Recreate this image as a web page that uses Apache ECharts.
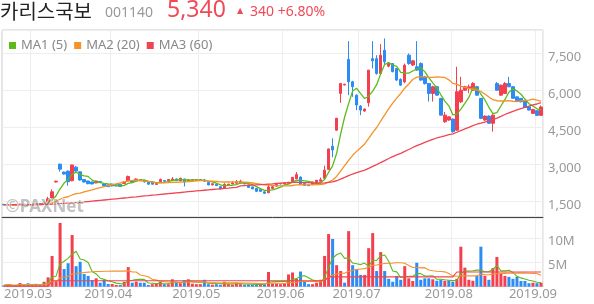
<!DOCTYPE html>
<html><head><meta charset="utf-8">
<script src="https://cdn.jsdelivr.net/npm/echarts@6/dist/echarts.min.js"></script>
<style>html,body{margin:0;padding:0;background:#fff}#c{width:594px;height:304px}</style>
</head><body><div id="c"></div>
<script>
// trading days per month (explicit)
const tradingDays = [
  ['2019-02', [20,21,22,25,26,27,28]],
  ['2019-03', [4,5,6,7,8,11,12,13,14,15,18,19,20,21,22,25,26,27,28,29]],
  ['2019-04', [1,2,3,4,5,8,9,10,11,12,15,16,17,18,19,22,23,24,25,26,29,30]],
  ['2019-05', [2,3,7,8,9,10,13,14,15,16,17,20,21,22,23,24,27,28,29,30,31]],
  ['2019-06', [3,4,5,7,10,11,12,13,14,17,18,19,20,21,24,25,26,27,28]],
  ['2019-07', [1,2,3,4,5,8,9,10,11,12,15,16,17,18,19,22,23,24,25,26,29,30,31]],
  ['2019-08', [1,2,5,6,7,8,9,12,13,14,16,19,20,21,22,23,26,27,28,29,30]],
  ['2019-09', [2,3]]
];
const opens = [1390,1370,1385,1365,1385,1400,1380,1370,1390,1420,1400,1460,1650,2300,3020,2700,2740,2350,2900,2710,
 2400,2340,2300,2260,2320,2220,2180,2210,2190,2210,2240,2340,2350,2340,2370,2350,2290,2300,2200,2310,
 2360,2350,2380,2420,2340,2420,2330,2370,2370,2370,2380,2280,2180,2210,2110,2040,2180,2220,2250,2260,
 2270,2180,2100,2040,1990,1900,1860,2040,2130,2240,2220,2240,2310,2430,2500,2240,2180,2210,2270,2330,
 2450,2810,3750,4400,5890,6230,7270,6360,5820,5375,5175,5510,7300,7300,6700,7640,6995,7100,6900,6460,
 6360,7440,7040,6970,7100,6560,6290,5890,6160,5690,4740,4810,4850,4400,5550,6020,6100,6020,6160,5690,
 4810,4970,4680,6290,5820,5890,6290,6160,5750,5690,5590,5350,5080,5190,5000];
const closes = [1370,1385,1365,1390,1400,1380,1370,1390,1420,1400,1450,1620,1900,2330,2820,2620,2310,2990,2740,2380,
 2300,2230,2220,2340,2280,2150,2110,2140,2140,2120,2300,2520,2290,2420,2390,2300,2210,2210,2250,2400,
 2330,2400,2420,2350,2450,2300,2380,2390,2390,2390,2330,2180,2230,2150,2020,2200,2210,2260,2290,2330,
 2220,2080,2020,1920,1920,1840,2100,2110,2200,2220,2260,2290,2490,2600,2200,2160,2150,2300,2370,2390,
 2780,3640,3600,4880,6290,6260,6360,6160,5420,5215,5255,6834,7210,6700,7440,7170,7130,6770,6430,6225,
 7035,7100,7210,6835,6430,6290,5890,6160,5820,5010,5010,4940,4340,5960,6020,6160,6160,6290,5820,4880,
 4970,4680,5010,6020,6225,6290,6160,5690,5590,5550,5320,5215,5240,5000,5340];
const lows = [1360,1365,1360,1360,1380,1375,1365,1365,1385,1395,1395,1450,1620,2280,2720,2600,2150,2330,2700,2350,
 2280,2210,2200,2250,2260,2130,2100,2120,2120,2100,2230,2320,2280,2320,2350,2280,2200,2200,2190,2300,
 2310,2340,2370,2340,2330,2120,2320,2360,2360,2360,2320,2170,2170,2140,2000,2030,2170,2210,2240,2250,
 2210,2070,2010,1900,1900,1820,1850,2030,2120,2200,2210,2230,2300,2420,2180,2140,2140,2200,2260,2320,
 2440,2790,3300,4380,5510,6220,5820,5750,5210,5010,5150,5350,6900,6650,6650,7040,6950,6750,6400,6200,
 6300,7050,7000,6800,6400,6250,5560,5560,5800,5000,4700,4780,4300,4380,5500,6000,5900,6000,5800,4850,
 4780,4650,4340,6000,5800,5870,6140,5680,5560,5530,5300,5200,5060,4980,4980];
const highs = [1400,1390,1390,1395,1420,1405,1390,1395,1430,1425,1460,1700,2000,2350,3050,2720,2760,3000,2950,2720,
 2420,2350,2310,2350,2330,2230,2190,2230,2200,2230,2320,2560,2380,2440,2420,2360,2300,2310,2270,2440,
 2370,2420,2500,2440,2470,2430,2400,2400,2410,2400,2420,2300,2250,2220,2120,2250,2230,2330,2380,2390,
 2290,2190,2110,2050,2000,1910,2200,2130,2220,2250,2280,2300,2500,2700,2520,2250,2190,2310,2380,2480,
 2960,3650,4070,4900,6300,6280,8010,6400,5850,5420,5280,6840,8010,7440,7890,8120,7150,7120,6920,6500,
 7100,7510,7250,8010,7150,6600,6300,6200,6200,5700,5140,4960,4870,6970,6560,6200,6250,6350,6200,5700,
 5000,5000,5050,6350,6250,6350,6560,6180,5760,5700,5600,5360,5260,5200,5400];
// volume in millions
const volumes = [0.27,0.53,0.12,0.2,0.74,0.3,0.68,0.3,0.3,0.3,
 1.0,1.9,6.3,1.2,13.1,3.6,4.8,10.6,4.2,5.1,
 2.6,2.2,1.36,1.7,0.8,1.36,0.53,0.53,0.33,0.33,
 1.0,4.0,0.8,1.0,0.8,0.8,0.33,0.5,0.6,1.0,
 0.5,0.5,1.5,1.0,0.7,1.3,1.5,0.6,0.5,0.5,
 1.4,0.5,0.4,0.5,0.4,1.0,0.5,0.4,0.8,0.5,
 0.4,0.4,0.4,0.4,0.4,0.5,3.0,0.6,0.6,0.5,
 0.7,2.5,2.9,1.6,3.1,1.0,0.5,0.5,0.8,1.4,
 6.3,10.8,9.8,4.4,3.2,0.8,11.4,4.4,3.6,2.4,
 2.4,7.9,11.0,3.2,7.1,3.2,1.6,1.0,2.2,1.4,
 4.2,1.7,1.15,4.9,1.4,1.7,1.7,1.5,1.2,1.4,
 1.2,1.3,1.0,1.6,8.2,3.9,1.4,1.2,2.2,8.2,
 2.2,1.4,3.8,6.1,2.7,2.2,2.0,1.6,2.0,1.15,
 1.15,0.7,0.8,0.7,0.8];
// MA60 for the days before a full 60-day window exists
const ma60Early = [1380,1380,1380,1381,1382,1382,1383,1384,1385,1386,1388,
 1390,1398,1408,1420,1432,1444,1455,1465,1475,
 1490,1506,1522,1538,1554,1570,1586,1602,1618,1634,1650,
 1665,1683,1700,1720,1735,1750,1766,1781,1797,1812,
 1828,1843,1859,1874,1890,1905,1920,1935,1950,1965,
 1980,1994,2009,2024,2039,2053,2068,2083];
// volume MA3 line as read (stepped)
const volMa60 = [0.1,0.1,0.1,0.1,0.1,0.1,0.1,0.1,0.1,0.1,0.1,0.1,
 1.2,1.2,1.2,1.2,1.2,1.2,1.2,1.2,1.2,1.2,1.2,1.2,1.2,1.2,1.2,1.2,1.2,1.2,1.2,1.2,1.2,1.2,1.2,1.2,
 1.2,1.2,1.2,1.2,1.2,1.2,1.2,1.2,1.2,1.2,1.2,1.2,1.2,1.2,1.2,1.2,1.2,1.2,1.2,1.2,1.2,1.2,1.2,1.2,
 1.2,1.2,1.2,1.2,1.2,1.2,1.2,1.2,1.2,1.2,1.2,1.2,1.2,1.2,1.2,1.2,1.2,1.2,1.2,1.2,1.2,
 2.0,2.0,2.0,2.0,2.0,2.0,2.0,2.0,2.0,2.0,2.0,2.0,2.0,2.0,2.0,2.0,2.0,2.0,2.0,2.0,2.0,2.0,2.0,2.0,2.0,2.0,2.0,2.0,2.0,2.0,2.0,2.0,
 3.0,3.0,3.0,3.0,3.0,3.0,3.0,3.0,3.0,3.0,3.0,3.0,3.0,3.0,3.0,3.0,3.0,3.0,3.0,3.0,3.0,3.0];
const priceTicks = [1500,3000,4500,6000,7500];
const volTicks = [5,10];
const maNames = ['MA1 (5)','MA2 (20)','MA3 (60)'];
const PRICE_MIN=880, PRICE_MAX=8461, VOL_MAX=14.1;

const RED='#f43f4e', BLUE='#2b8cf3';
const MA_COL=['#5cba1c','#f5922a','#f04452'];

const cats=[]; const monthStart=new Set();
tradingDays.forEach(([m,days],k)=>{ if(k>0) monthStart.add(cats.length); days.forEach(d=>cats.push(m+'-'+String(d).padStart(2,'0'))); });

function ma(arr,n){ return arr.map((_,i)=>{const s=Math.max(0,i-n+1);let t=0;for(let k=s;k<=i;k++)t+=arr[k];return +(t/(i-s+1)).toFixed(3);}); }
const ma5=ma(closes,5), ma20=ma(closes,20);
const ma60=closes.map((_,i)=> i<ma60Early.length ? ma60Early[i] : +(closes.slice(i-59,i+1).reduce((a,b)=>a+b,0)/60).toFixed(1));
const vma5=ma(volumes,5), vma20=ma(volumes,20);

const candle=opens.map((o,i)=>[o,closes[i],lows[i],highs[i]]);
const volData=volumes.map((v,i)=>{const prev=i>0?closes[i-1]:opens[i];return {value:v,itemStyle:{color:closes[i]>=prev?RED:BLUE}};});

// the axis top gets a blank label so that the 7,500 label is laid out like the others
const priceLabelValues=priceTicks.concat([PRICE_MAX]);
const volLabelValues=volTicks.concat([VOL_MAX]);

const isMonth=(i)=>monthStart.has(i);
const chart=echarts.init(document.getElementById('c'),null,{width:594,height:304});
const FONT='"Noto Sans","Noto Sans CJK KR",sans-serif';
chart.setOption({
  animation:false,
  textStyle:{fontFamily:FONT},
  legend:{data:maNames,left:4,top:34,itemWidth:7,itemHeight:7,itemGap:7,icon:'rect',selectedMode:false,
    textStyle:{fontSize:13,color:'#888'}},
  graphic:[
    {type:'text',left:0,top:1,style:{text:'카리스국보',font:'20px "Noto Sans CJK KR"',fill:'#222'}},
    {type:'text',left:105,top:6,style:{text:'001140',font:'14px "Noto Sans"',fill:'#999'}},
    {type:'text',left:167,top:-1,style:{text:'5,340',font:'23px "Noto Sans"',fill:'#f04a57'}},
    {type:'text',left:237,top:7,style:{text:'▲',font:'8px "DejaVu Sans"',fill:'#f04a57'}},
    {type:'text',left:250,top:5,style:{text:'340 +6.80%',font:'14px "Noto Sans"',fill:'#f04a57'}},
    {type:'text',left:5,top:198,z:100,style:{text:'©PAXNet',font:'bold 17px "Noto Sans"',fill:'rgba(120,120,120,0.45)',stroke:'rgba(255,255,255,0.8)',lineWidth:1}}
  ],
  grid:[
    {left:2,right:51,top:30,height:187,show:true,borderColor:'#ccc',borderWidth:1},
    {left:2,right:51,top:218,height:68.6,show:true,borderColor:'#ccc',borderWidth:1}
  ],
  xAxis:[
    {type:'category',gridIndex:0,data:cats,boundaryGap:true,
     axisLine:{show:true,lineStyle:{color:'#444',width:1}},axisTick:{show:false},axisLabel:{show:false},
     splitLine:{show:true,interval:(i)=>isMonth(i),lineStyle:{color:'#eee'}}},
    {type:'category',gridIndex:1,data:cats,boundaryGap:true,
     axisLine:{show:true,lineStyle:{color:'#ccc'}},axisTick:{show:false},
     axisLabel:{interval:(i)=>isMonth(i),formatter:(v)=>'{t|'+v.slice(0,7).replace('-','.')+'}{s|}',margin:1,
       rich:{t:{color:'#999',fontSize:13},s:{width:8}}},
     splitLine:{show:true,interval:(i)=>isMonth(i),lineStyle:{color:'#eee'}}}
  ],
  yAxis:[
    {type:'value',gridIndex:0,position:'right',min:PRICE_MIN,max:PRICE_MAX,
     axisLine:{show:false},axisTick:{show:false,customValues:priceLabelValues},
     axisLabel:{customValues:priceLabelValues,formatter:(v)=>priceTicks.includes(v)?v.toLocaleString('en-US'):'',color:'#999',fontSize:13,margin:5,
       verticalAlign:'top',lineHeight:7},
     splitLine:{show:true,lineStyle:{color:'#eee'}}},
    {type:'value',gridIndex:1,position:'right',min:0,max:VOL_MAX,
     axisLine:{show:false},axisTick:{show:false,customValues:volLabelValues},
     axisLabel:{customValues:volLabelValues,formatter:(v)=>volTicks.includes(v)?v+'M':'',color:'#999',fontSize:13,margin:5,
       verticalAlign:'top',lineHeight:6},
     splitLine:{show:true,lineStyle:{color:'#eee'}}}
  ],
  series:[
    {type:'candlestick',xAxisIndex:0,yAxisIndex:0,data:candle,barWidth:3,
     itemStyle:{color:RED,color0:BLUE,borderColor:RED,borderColor0:BLUE,borderWidth:1}},
    {name:maNames[0],type:'line',xAxisIndex:0,yAxisIndex:0,data:ma5,showSymbol:false,lineStyle:{width:1.3,color:MA_COL[0]},itemStyle:{color:MA_COL[0]}},
    {name:maNames[1],type:'line',xAxisIndex:0,yAxisIndex:0,data:ma20,showSymbol:false,lineStyle:{width:1.3,color:MA_COL[1]},itemStyle:{color:MA_COL[1]}},
    {name:maNames[2],type:'line',xAxisIndex:0,yAxisIndex:0,data:ma60,showSymbol:false,lineStyle:{width:1.3,color:MA_COL[2]},itemStyle:{color:MA_COL[2]}},
    {type:'bar',xAxisIndex:1,yAxisIndex:1,data:volData,barWidth:3},
    {name:maNames[0],type:'line',xAxisIndex:1,yAxisIndex:1,data:vma5,showSymbol:false,lineStyle:{width:1.1,color:MA_COL[0]},itemStyle:{color:MA_COL[0]}},
    {name:maNames[1],type:'line',xAxisIndex:1,yAxisIndex:1,data:vma20,showSymbol:false,lineStyle:{width:1.1,color:MA_COL[1]},itemStyle:{color:MA_COL[1]}},
    {name:maNames[2],type:'line',xAxisIndex:1,yAxisIndex:1,data:volMa60,showSymbol:false,lineStyle:{width:1.1,color:MA_COL[2]},itemStyle:{color:MA_COL[2]}}
  ]
});
</script></body></html>
